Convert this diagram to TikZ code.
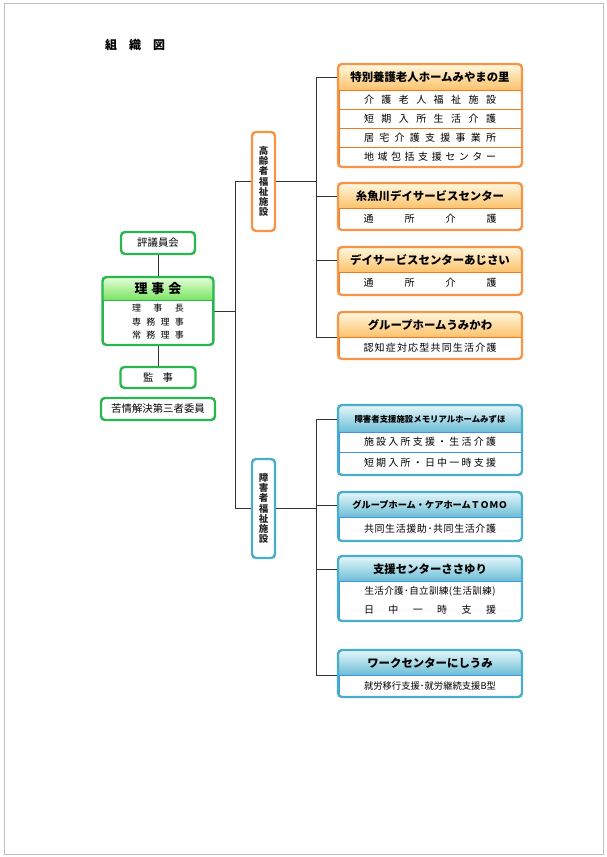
\documentclass[tikz,border=0pt]{standalone}
\usepackage{fontspec}
\setmainfont{Noto Sans CJK JP}
\usepackage{tikz}
\usetikzlibrary{positioning, fit, backgrounds}
\definecolor{oline}{RGB}{244,150,72}
\definecolor{osep}{RGB}{240,122,30}
\definecolor{otop}{RGB}{255,245,218}
\definecolor{obot}{RGB}{252,194,108}
\definecolor{bline}{RGB}{74,174,200}
\definecolor{bsep}{RGB}{62,150,228}
\definecolor{btop}{RGB}{226,244,249}
\definecolor{bbot}{RGB}{108,190,214}
\definecolor{gline}{RGB}{42,182,78}
\definecolor{gtop}{RGB}{226,252,214}
\definecolor{gbot}{RGB}{122,228,98}
\newcommand{\spaced}[2]{\makebox[#1][s]{\spaceskip=0pt plus 1fil\relax #2}}

\begin{document}
\begin{tikzpicture}[x=1pt, y=-1pt, outer sep=0pt, inner sep=0pt,
    ohead/.style={top color=otop, bottom color=obot, minimum width=182pt, minimum height=24pt,
                font=\fontsize{11.4}{13}\selectfont\bfseries},
    orow/.style={draw=osep, line width=0.8pt, minimum width=182pt, minimum height=21pt,
                font=\fontsize{10}{12}\selectfont},
    oframe/.style={draw=oline, line width=2.4pt, rounded corners=4pt, inner sep=1pt},
    bhead/.style={top color=btop, bottom color=bbot, minimum width=182pt, minimum height=24pt,
                font=\fontsize{11.4}{13}\selectfont\bfseries},
    brow/.style={draw=bsep, line width=0.8pt, minimum width=182pt, minimum height=21pt,
                align=center, font=\fontsize{10}{19}\selectfont},
    bframe/.style={draw=bline, line width=2.4pt, rounded corners=4pt, inner sep=1pt},
    ghead/.style={top color=gtop, bottom color=gbot, minimum width=109pt, minimum height=22pt,
                font=\fontsize{13}{15}\selectfont\bfseries},
    grnrow/.style={draw=gline, line width=0.8pt, minimum width=109pt, minimum height=44pt,
                align=center, font=\fontsize{9}{13.5}\selectfont},
    gframe/.style={draw=gline, line width=2.4pt, rounded corners=4pt, inner sep=1pt},
    gbox/.style={draw=gline, line width=2.4pt, rounded corners=4pt, minimum height=22pt,
                font=\fontsize{10.4}{12}\selectfont},
    vlab/.style={line width=2.4pt, rounded corners=4pt, minimum width=23pt, minimum height=99pt,
                align=center, text=black!85, font=\fontsize{9.5}{10.2}\selectfont\bfseries},
    conn/.style={draw=black!80, line width=0.7pt}]

  \useasboundingbox (0,0) rectangle (606,857);
  \draw[black!25, line width=0.6pt] (4,3) rectangle (603,854);

  \node[font=\fontsize{12}{14}\selectfont\bfseries] (title) at (135,45) {\spaced{60pt}{組 織 図}};

  % board
  \node[gbox, minimum width=74pt] (hyo) at (158,243) {評議員会};
  \node[ghead, below=24pt of hyo] (rij) {\spaced{47pt}{理 事 会}};
  \node[grnrow, below=0pt of rij] (rij1) {\spaced{52pt}{理 事 長}\\\spaced{52pt}{専 務 理 事}\\\spaced{52pt}{常 務 理 事}};
  \node[gframe, fit=(rij)(rij1)] (rijf) {};
  \node[gbox, below=22pt of rijf, minimum width=75pt, minimum height=21pt] (kan) {\spaced{30pt}{監 事}};
  \node[gbox, below=10pt of kan, minimum width=114pt] (kuj) {苦情解決第三者委員};

  \node[vlab, draw=oline] (korei) at (263.5,181.5) {高\\齢\\者\\福\\祉\\施\\設};
  \node[vlab, draw=bline] (shogai) at (263.5,508.5) {障\\害\\者\\福\\祉\\施\\設};

  % elderly care
  \node[ohead, minimum height=25pt] (tok) at (430,77.5) {特別養護老人ホームみやまの里};
  \node[orow, minimum height=19pt, below=0pt of tok] (tok1) {\spaced{132pt}{介 護 老 人 福 祉 施 設}};
  \node[orow, minimum height=19pt, below=0pt of tok1] (tok2) {\spaced{132pt}{短 期 入 所 生 活 介 護}};
  \node[orow, minimum height=19pt, below=0pt of tok2] (tok3) {\spaced{132pt}{居 宅 介 護 支 援 事 業 所}};
  \node[orow, minimum height=19pt, below=0pt of tok3] (tok4) {\spaced{132pt}{地 域 包 括 支 援 セ ン タ ー}};
  \node[oframe, fit=(tok)(tok4)] (tokf) {};

  \node[ohead, below=17pt of tokf] (ito) {糸魚川デイサービスセンター};
  \node[orow, below=0pt of ito] (ito1) {\spaced{133pt}{通 所 介 護}};
  \node[oframe, fit=(ito)(ito1)] (itof) {};

  \node[ohead, below=18pt of itof] (aji) {デイサービスセンターあじさい};
  \node[orow, below=0pt of aji, minimum height=22pt] (aji1) {\spaced{133pt}{通 所 介 護}};
  \node[oframe, fit=(aji)(aji1)] (ajif) {};

  \node[ohead, below=18pt of ajif] (umi) {グループホームうみかわ};
  \node[orow, below=0pt of umi] (umi1) {\spaced{133pt}{認 知 症 対 応 型 共 同 生 活 介 護}};
  \node[oframe, fit=(umi)(umi1)] (umif) {};

  % disability support
  \node[bhead, minimum height=26pt, font=\fontsize{8.4}{10}\selectfont\bfseries] (mem) at (430,419) {障害者支援施設メモリアルホームみずほ};
  \node[brow, minimum height=20pt, below=0pt of mem] (mem1) {\spaced{132pt}{施 設 入 所 支 援 ・ 生 活 介 護}};
  \node[brow, minimum height=22pt, below=0pt of mem1] (mem2) {\spaced{132pt}{短 期 入 所 ・ 日 中 一 時 支 援}};
  \node[bframe, fit=(mem)(mem2)] (memf) {};

  \node[bhead, below=18pt of memf, font=\fontsize{9.2}{11}\selectfont\bfseries] (tomo) {グループホーム・ケアホームＴＯＭＯ};
  \node[brow, minimum height=23pt, below=0pt of tomo] (tomo1) {\spaced{132pt}{共 同 生 活 援 助 ･ 共 同 生 活 介 護}};
  \node[bframe, fit=(tomo)(tomo1)] (tomof) {};

  \node[bhead, below=16pt of tomof] (sas) {支援センターささゆり};
  \node[brow, minimum height=39pt, below=0pt of sas] (sas1) {{\fontsize{9.5}{19}\selectfont\spaced{131pt}{生 活 介 護 ･ 自 立 訓 練 ( 生 活 訓 練 )}}\\\spaced{132pt}{日 中 一 時 支 援}};
  \node[bframe, fit=(sas)(sas1)] (sasf) {};

  \node[bhead, below=30pt of sasf] (nis) {ワークセンターにしうみ};
  \node[brow, below=0pt of nis, font=\fontsize{9.3}{12}\selectfont] (nis1) {\spaced{132pt}{就 労 移 行 支 援 ･ 就 労 継 続 支 援 B 型}};
  \node[bframe, fit=(nis)(nis1)] (nisf) {};

  \coordinate (trunk) at (235,0);
  \coordinate (spine) at (316,0);

  \begin{scope}[on background layer]
    \draw[conn] (hyo) -- (rij);
    \draw[conn] (rijf) -- (kan);
    \draw[conn] (rijf.east) -- (rijf.east -| trunk);
    \draw[conn] (korei.west) -| (trunk |- shogai.west) -- (shogai.west);
    \draw[conn] (korei.east) -- (korei.east -| spine);
    \draw[conn] (tok.west) -- (tok.west -| spine) -- (umi.south west -| spine) -- (umi.south west);
    \draw[conn] (ito.west -| spine) -- (ito.west);
    \draw[conn] (aji.west -| spine) -- (aji.west);
    \draw[conn] (shogai.east) -- (shogai.east -| spine);
    \draw[conn] (mem.west) -- (mem.west -| spine) -- (nis.south west -| spine) -- (nis.south west);
    \draw[conn] (tomo.west -| spine) -- (tomo.west);
    \draw[conn] (sas.west -| spine) -- (sas.west);
  \end{scope}
\end{tikzpicture}
\end{document}
